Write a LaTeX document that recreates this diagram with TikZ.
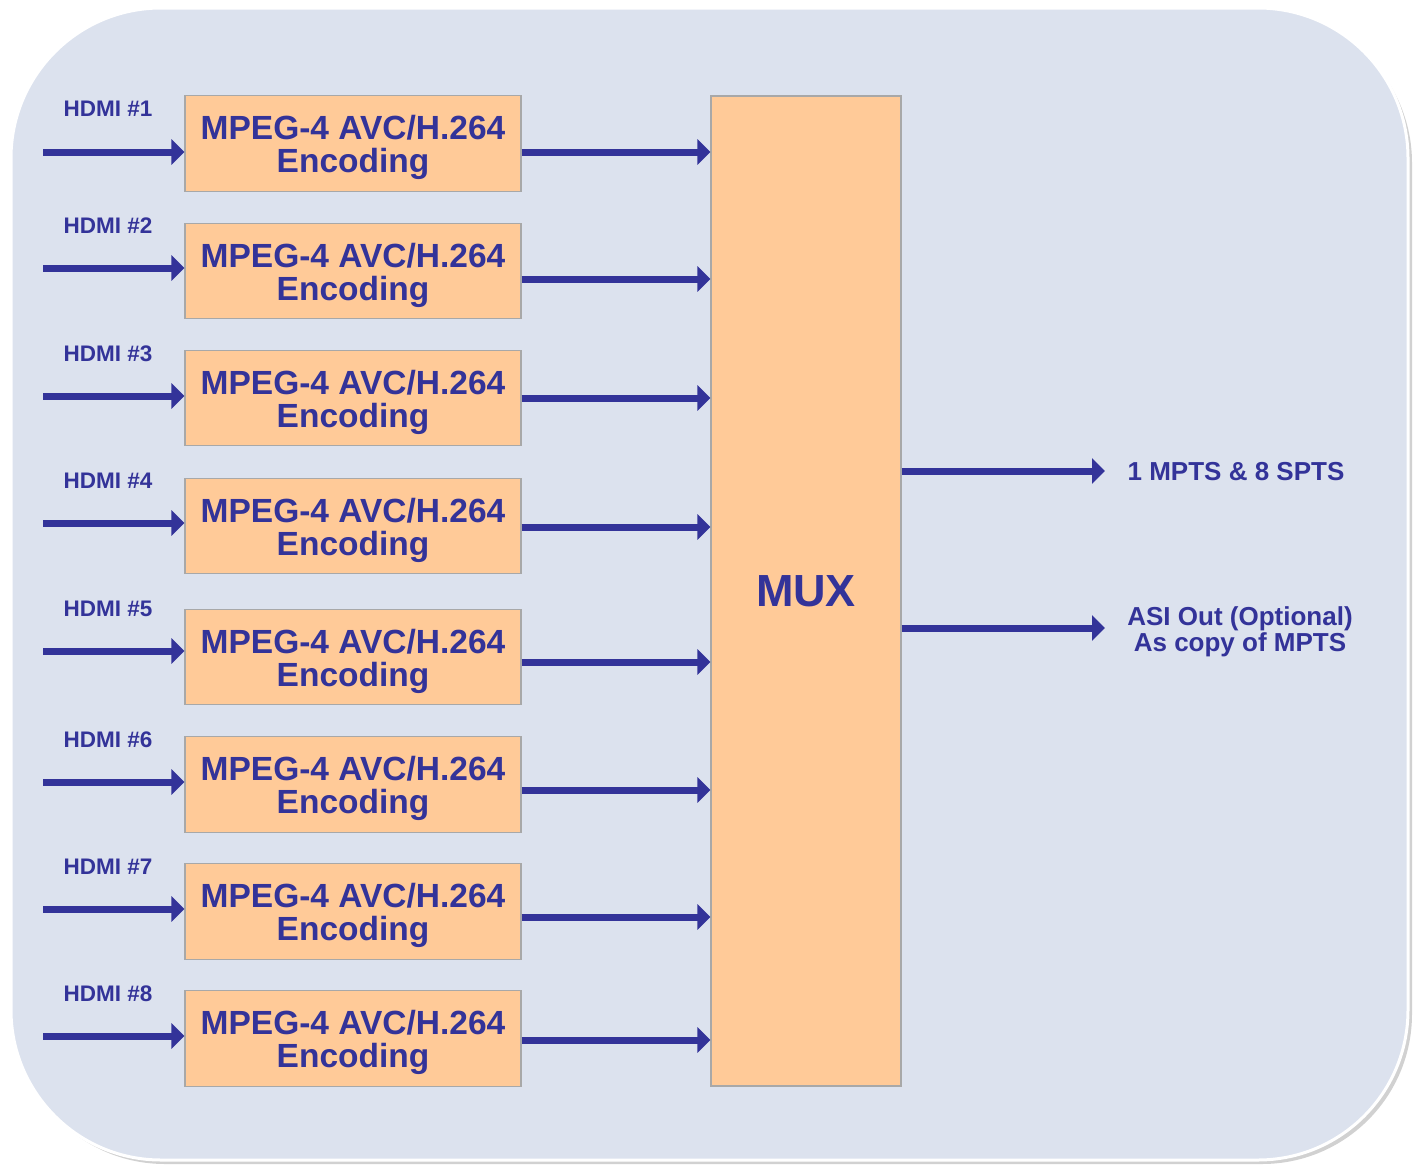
\documentclass[tikz,border=0pt]{standalone}
\usepackage{fontspec}
\setmainfont{Liberation Sans}
\usetikzlibrary{arrows.meta}
\definecolor{ink}{HTML}{333399}
\definecolor{boxfill}{HTML}{FFCA98}
\definecolor{bgfill}{HTML}{DCE2EE}
\definecolor{boxline}{HTML}{A8A8A8}
\tikzset{
  encbox/.style={draw=boxline, line width=1.2pt, fill=boxfill, minimum width=336pt, minimum height=95.5pt, inner sep=0pt,
    label={[enctext]center:MPEG-4 AVC/H.264\\Encoding}},
  enctext/.style={align=center, text=ink, inner sep=0pt, yshift=-4pt, font=\fontsize{33.5}{33}\selectfont\bfseries},
  muxbox/.style={draw=boxline, line width=1.2pt, fill=boxfill, minimum width=190pt, minimum height=990pt, inner sep=0pt, text=ink, font=\fontsize{45}{50}\selectfont\bfseries},
  hdmilabel/.style={text=ink, inner sep=0pt, font=\fontsize{22.5}{24}\selectfont\bfseries},
  outlabel/.style={text=ink, inner sep=0pt, align=center, font=\fontsize{26}{26.5}\selectfont\bfseries},
  flow/.style={draw=ink, line width=7pt, -{Triangle[length=13pt,width=25pt]}}
}
\begin{document}
\begin{tikzpicture}[x=1pt,y=-1pt]
\useasboundingbox (0,0) rectangle (1417,1165);
% background panel
\fill[black!30, opacity=0.6, rounded corners=150pt] (15,13) rectangle (1412,1164);
\path[fill=bgfill, draw=white, line width=3pt, rounded corners=150pt] (11,8) rectangle (1408,1160);
% encoders
\node[encbox] (enc1) at (353,143.5) {};
\node[encbox] (enc2) at (353,271) {};
\node[encbox] (enc3) at (353,398) {};
\node[encbox] (enc4) at (353,526) {};
\node[encbox] (enc5) at (353,657) {};
\node[encbox] (enc6) at (353,784.5) {};
\node[encbox] (enc7) at (353,911.5) {};
\node[encbox] (enc8) at (353,1038.5) {};
% mux
\node[muxbox] (mux) at (806,591) {MUX};
% HDMI labels
\node[hdmilabel] (h1) at (108,109) {HDMI \#1};
\node[hdmilabel] (h2) at (108,226) {HDMI \#2};
\node[hdmilabel] (h3) at (108,354) {HDMI \#3};
\node[hdmilabel] (h4) at (108,481) {HDMI \#4};
\node[hdmilabel] (h5) at (108,609) {HDMI \#5};
\node[hdmilabel] (h6) at (108,740) {HDMI \#6};
\node[hdmilabel] (h7) at (108,867) {HDMI \#7};
\node[hdmilabel] (h8) at (108,994) {HDMI \#8};
% input arrows
\foreach \i/\y in {1/152,2/268,3/396,4/523,5/651,6/782,7/909,8/1036}{
  \coordinate (in\i) at (43,\y);
  \draw[flow] (in\i) -- (in\i -| enc\i.west);
}
% encoder to mux arrows
\foreach \i/\y in {1/152,2/279,3/398,4/527,5/662,6/790,7/917,8/1040}{
  \coordinate (o\i) at (600,\y);
  \draw[flow] (o\i -| enc\i.east) -- (o\i -| mux.west);
}
% outputs
\coordinate (t1) at (1105,471);
\coordinate (t2) at (1105,628);
\draw[flow] (t1 -| mux.east) -- (t1);
\draw[flow] (t2 -| mux.east) -- (t2);
\node[outlabel] (lab1) at (1236,472) {1 MPTS \& 8 SPTS};
\node[outlabel] (lab2) at (1240,632) {ASI Out (Optional)\\As copy of MPTS};
\end{tikzpicture}
\end{document}
